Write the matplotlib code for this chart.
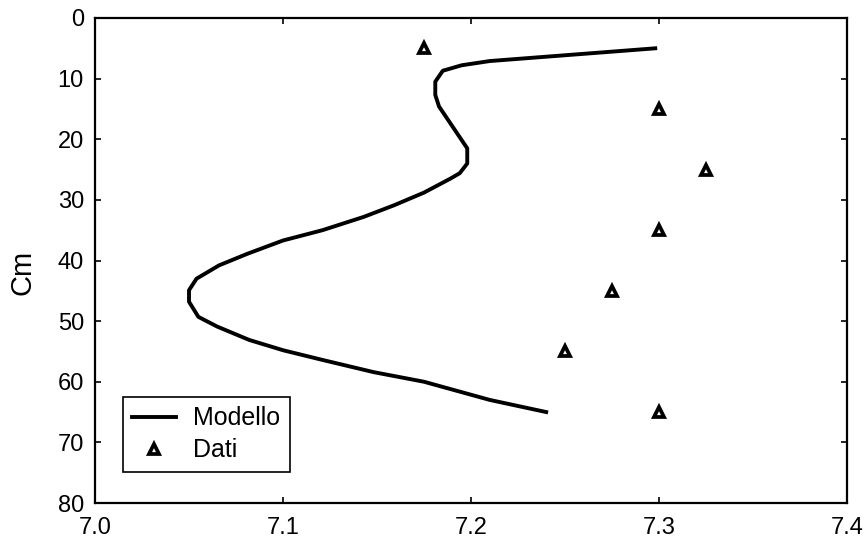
import matplotlib
matplotlib.use("Agg")
import matplotlib.pyplot as plt

plt.rcParams['font.family'] = ['Liberation Sans', 'DejaVu Sans']

# Model curve (pH vs depth in cm)
model_x = [7.298, 7.210, 7.195, 7.185, 7.181, 7.181, 7.183, 7.198, 7.198, 7.194,
           7.189, 7.175, 7.159, 7.143, 7.121, 7.100, 7.081, 7.066, 7.054, 7.050,
           7.050, 7.055, 7.065, 7.082, 7.100, 7.121, 7.148, 7.175, 7.210, 7.240]
model_y = [5.0, 7.1, 7.8, 8.7, 10.5, 12.7, 14.6, 21.5, 24.0, 25.6,
           26.5, 28.8, 30.9, 32.8, 35.0, 36.7, 38.9, 40.8, 43.0, 44.9,
           46.8, 49.3, 50.9, 53.1, 54.8, 56.4, 58.4, 60.0, 63.0, 65.0]

# Measured data
data_x = [7.175, 7.300, 7.325, 7.300, 7.275, 7.250, 7.300]
data_y = [5, 15, 25, 35, 45, 55, 65]

xticks = [7.0, 7.1, 7.2, 7.3, 7.4]
xtick_labels = ['7.0', '7.1', '7.2', '7.3', '7.4']
yticks = [0, 10, 20, 30, 40, 50, 60, 70, 80]

fig = plt.figure(figsize=(8.68, 5.39), dpi=100)
ax = fig.add_axes([95/868, 1 - 503/539, 752/868, 485/539])

ax.plot(model_x, model_y, color='black', lw=2.8, label='Modello')
ax.plot(data_x, data_y, linestyle='none', marker='^', markersize=7,
        markerfacecolor='white', markeredgecolor='black', markeredgewidth=2.7,
        label='Dati')

ax.set_xlim(7.0, 7.4)
ax.set_ylim(80, 0)
ax.set_xticks(xticks)
ax.set_xticklabels(xtick_labels)
ax.set_yticks(yticks)
ax.tick_params(direction='in', length=4, width=1.2, labelsize=17,
               top=True, right=True)
ax.tick_params(axis='x', pad=10)
ax.tick_params(axis='y', pad=8)
for s in ax.spines.values():
    s.set_linewidth(1.6)
ax.set_ylabel('Cm', fontsize=21)
ax.yaxis.set_label_coords(-0.078, 0.476)

leg = ax.legend(loc='lower left', bbox_to_anchor=(0.0372, 0.064), borderaxespad=0,
                fontsize=18, frameon=True, fancybox=False, edgecolor='black',
                framealpha=1, handlelength=1.76, handletextpad=0.68,
                borderpad=0.38, labelspacing=0.32)
leg.get_frame().set_linewidth(1.2)

fig.savefig('out.png', dpi=100)
